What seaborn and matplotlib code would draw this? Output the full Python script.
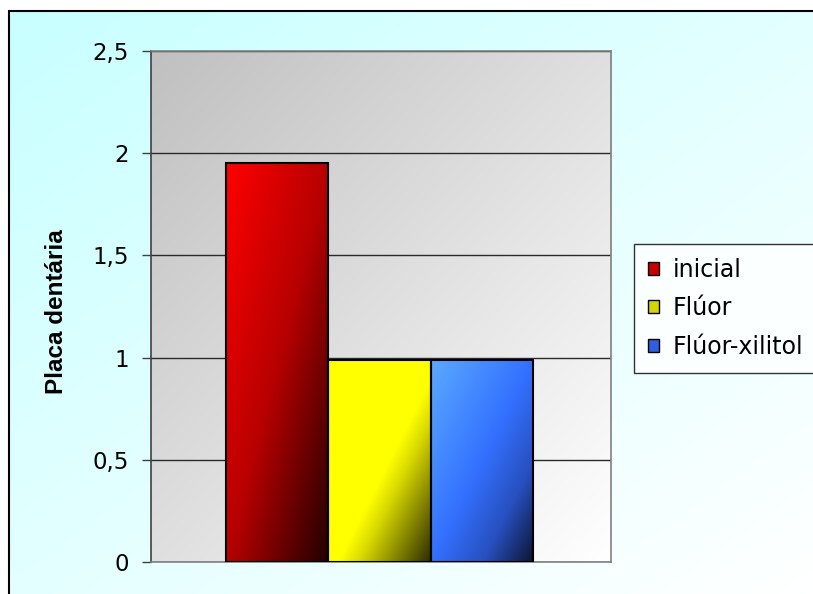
import numpy as np
import pandas as pd
import matplotlib
matplotlib.use("Agg")
import matplotlib.pyplot as plt
from matplotlib.colors import LinearSegmentedColormap
from matplotlib.patches import Patch
import seaborn as sns

# Dental plaque index per treatment group
grupos = ["inicial", "Flúor", "Flúor-xilitol"]
valores = [1.95, 0.99, 0.99]
yticks = [0, 0.5, 1, 1.5, 2, 2.5]
ytick_labels = ["0", "0,5", "1", "1,5", "2", "2,5"]

df = pd.DataFrame({"grupo": grupos, "valor": valores})

sns.set_theme(style="white")
plt.rcParams["font.family"] = ["DejaVu Sans"]
plt.rcParams["text.color"] = "black"
plt.rcParams["axes.labelcolor"] = "black"

W, H = 813, 594
fig = plt.figure(figsize=(W / 100, H / 100), dpi=100)
fig.patch.set_facecolor("white")


def diag_gradient(cmap, nx=200, ny=200):
    u = np.linspace(0, 1, nx)[None, :]
    v = np.linspace(0, 1, ny)[:, None]
    t = (u + v) / 2.0
    return cmap(t)


# Chart area: light cyan fading to white, framed on top and left
bg_ax = fig.add_axes([9 / W, 0, 1 - 9 / W, 1 - 11 / H], zorder=-10)
frame_cmap = LinearSegmentedColormap.from_list("frame", ["#c8ffff", "#ffffff"])
bg_ax.imshow(diag_gradient(frame_cmap), extent=[0, 1, 0, 1], aspect="auto",
             origin="upper")
bg_ax.set_xlim(0, 1)
bg_ax.set_ylim(0, 1)
bg_ax.set_axis_off()
fig.add_artist(plt.Line2D([9 / W, 9 / W], [0, 1 - 11 / H], color="black",
                          lw=1.5, transform=fig.transFigure))
fig.add_artist(plt.Line2D([9 / W, 1], [1 - 11 / H, 1 - 11 / H], color="black",
                          lw=1.5, transform=fig.transFigure))

# Plot area
ax = fig.add_axes([151 / W, 1 - 562 / H, 460 / W, 511 / H])
sns.barplot(data=df, x="grupo", y="valor", hue="grupo", width=1.0,
            dodge=False, legend=False, ax=ax, edgecolor="black", linewidth=1.5)

XL = (-1.233, 3.262)
ax.set_xlim(*XL)
ax.set_ylim(0, 2.5)

plot_cmap = LinearSegmentedColormap.from_list("plotbg", ["#c0c0c0", "#ffffff"])
ax.imshow(diag_gradient(plot_cmap), extent=[XL[0], XL[1], 0, 2.5],
          aspect="auto", origin="upper", zorder=0)

ax.set_axisbelow(True)
ax.yaxis.grid(True, color="#2a2a2a", linewidth=1.0)
ax.xaxis.grid(False)

bar_cmaps = [
    LinearSegmentedColormap.from_list(
        "r", [(0, "#ff0000"), (0.5, "#b80000"), (1, "#200000")]),
    LinearSegmentedColormap.from_list(
        "y", [(0, "#ffff00"), (0.55, "#ffff00"), (0.65, "#dada00"), (1, "#2c2c00")]),
    LinearSegmentedColormap.from_list(
        "b", [(0, "#5aaaff"), (0.5, "#3370ff"), (0.75, "#2850c0"), (1, "#0c1430")]),
]

for patch, cmap in zip(ax.patches, bar_cmaps):
    x0, y0 = patch.get_x(), patch.get_y()
    w, h = patch.get_width(), patch.get_height()
    im = ax.imshow(diag_gradient(cmap), extent=[x0, x0 + w, y0, y0 + h],
                   aspect="auto", origin="upper", zorder=2)
    im.set_clip_path(patch)
    patch.set_facecolor("none")
    patch.set_zorder(3)

ax.set_xlim(*XL)
ax.set_ylim(0, 2.5)

ax.set_yticks(yticks)
ax.set_yticklabels(ytick_labels, fontsize=16.5, color="black")
ax.set_xticks([])
ax.set_xlabel("")
ax.set_ylabel("Placa dentária", fontsize=17.5, fontweight="bold",
              color="black", family=["Liberation Sans", "DejaVu Sans"])
ax.yaxis.set_label_coords(-0.18, 0.49)
ax.tick_params(axis="y", which="major", direction="out", length=6.5, width=1,
               color="#404040", pad=9.4, left=True)

for side in ["left", "bottom", "right", "top"]:
    ax.spines[side].set_visible(True)
    ax.spines[side].set_color("#808080")
    ax.spines[side].set_linewidth(1.2)
ax.spines["left"].set_color("#404040")

handles = [Patch(facecolor=c, edgecolor="black", linewidth=1.0)
           for c in ["#c80000", "#d4d400", "#2f5fe0"]]
leg = fig.legend(handles, grupos, loc="upper left",
                 bbox_to_anchor=(634 / W, 1 - 244 / H),
                 fontsize=17, frameon=True, fancybox=False,
                 handlelength=0.47, handleheight=0.47, handletextpad=0.6,
                 labelspacing=0.62, borderpad=0.58, borderaxespad=0,
                 labelcolor="black")
leg.get_frame().set_edgecolor("black")
leg.get_frame().set_linewidth(1.0)
leg.get_frame().set_facecolor("white")

fig.savefig("out.png", dpi=100)
